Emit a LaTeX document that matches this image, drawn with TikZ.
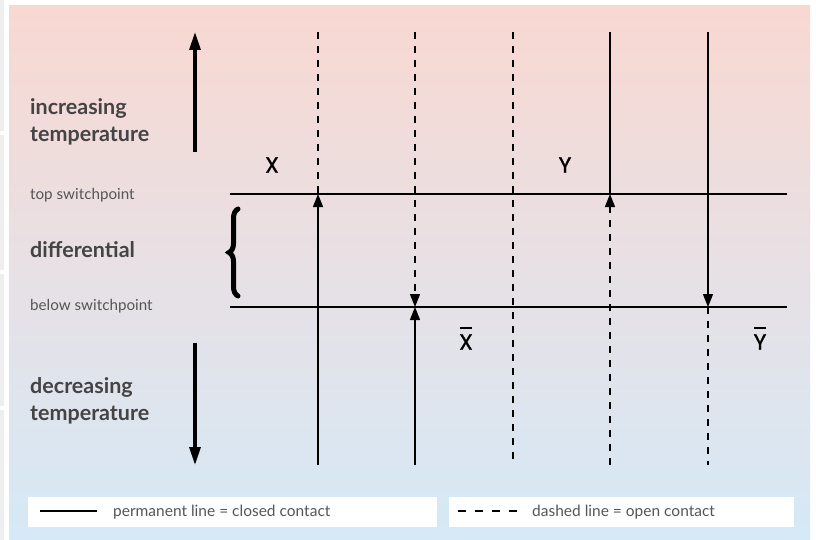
\documentclass[tikz,border=0pt]{standalone}
\usepackage{fontspec}
\setmainfont{Lato}
\newfontfamily\pop[FakeBold=1.2]{Poppins}
\usetikzlibrary{arrows.meta,decorations.pathreplacing}
\definecolor{bgtop}{HTML}{F9D8D2}
\definecolor{bgbot}{HTML}{D5E9F7}
\definecolor{labgray}{HTML}{444444}
\definecolor{leggray}{HTML}{555555}
\definecolor{stripgray}{HTML}{EEEEEE}
\tikzset{
  contact/.style={line width=1.3pt, draw=black},
  open/.style={contact, dash pattern=on 7pt off 7pt},
  tipup/.style={-{Triangle[length=13pt,width=10pt]}},
  bigarrow/.style={line width=3.2pt, -{Triangle[length=18pt,width=11pt]}},
  biglabel/.style={font=\fontsize{21.5}{27}\selectfont\bfseries, text=labgray, align=left, anchor=west, inner sep=0pt},
  smalllabel/.style={font=\fontsize{15.2}{17}\selectfont, text=leggray, anchor=west, inner sep=0pt},
  letter/.style={font=\pop\fontsize{22}{24}\selectfont, inner sep=0pt},
  legbox/.style={fill=white, draw=none},
  legtext/.style={font=\fontsize{15.5}{17}\selectfont, text=leggray, anchor=west, inner sep=0pt}
}
\begin{document}
\begin{tikzpicture}[x=1pt,y=-1pt]
\useasboundingbox (0,0) rectangle (816,540);
% background
\fill[white] (0,0) rectangle (816,540);
\foreach \a/\b in {0/131,135/270,274/406,410/540}{\fill[stripgray] (0,\a) rectangle (4,\b);}
\shade[top color=bgtop, bottom color=bgbot] (9,6) rectangle (810,540);

% coordinates
\foreach \i/\x in {1/318,2/415,3/513,4/610,5/708}{
  \coordinate (t\i) at (\x,32);
  \coordinate (s\i) at (\x,194);
  \coordinate (w\i) at (\x,307);
  \coordinate (b\i) at (\x,465);
}
\coordinate (hl1) at (230,194); \coordinate (hr1) at (787,194);
\coordinate (hl2) at (230,307); \coordinate (hr2) at (787,307);

% switchpoint lines
\draw[contact] (hl1) -- (hr1);
\draw[contact] (hl2) -- (hr2);

% contact lines
\draw[open] (t1) -- (s1);
\draw[contact, tipup] (b1) -- (s1);
\draw[open, tipup] (t2) -- (w2);
\draw[contact, tipup] (b2) -- (w2);
\draw[open] (t3) -- (b3);
\draw[contact] (t4) -- (s4);
\draw[open, tipup] (b4) -- (s4);
\draw[contact, tipup] (t5) -- (w5);
\draw[open] (w5) -- (b5);

% big arrows
\coordinate (ua0) at (195,152); \coordinate (ua1) at (195,32);
\coordinate (da0) at (195,343); \coordinate (da1) at (195,465);
\draw[bigarrow] (ua0) -- (ua1);
\draw[bigarrow] (da0) -- (da1);

% brace
\coordinate (br0) at (238,296); \coordinate (br1) at (238,209);
\draw[line width=5pt, line cap=round, decorate, decoration={brace, amplitude=9pt}] (br0) -- (br1);

% left labels
\node[biglabel] (inc) at (30,122) {increasing\\temperature};
\node[smalllabel] (top) at (30,195) {top switchpoint};
\node[biglabel] (dif) at (30,250) {differential};
\node[smalllabel] (bel) at (30,306) {below switchpoint};
\node[biglabel] (dec) at (30,401) {decreasing\\temperature};

% letters
\node[letter] (X) at (272,165) {X};
\node[letter] (Y) at (565,165) {Y};
\node[letter] (Xb) at (466,342) {X};
\node[letter] (Yb) at (760,342) {Y};
\draw[line width=1.4pt] ([yshift=6pt,xshift=1pt]Xb.north west) -- ([yshift=6pt,xshift=-1pt]Xb.north east);
\draw[line width=1.4pt] ([yshift=6pt,xshift=1pt]Yb.north west) -- ([yshift=6pt,xshift=-1pt]Yb.north east);

% legend
\fill[legbox] (28,497) rectangle (437,527);
\fill[legbox] (449,497) rectangle (794,527);
\coordinate (l1a) at (40,511); \coordinate (l1b) at (97,511);
\coordinate (l2a) at (458,511); \coordinate (l2b) at (517,511);
\draw[line width=1.3pt] (l1a) -- (l1b);
\draw[line width=1.3pt, dash pattern=on 8pt off 9pt] (l2a) -- (l2b);
\node[legtext] (lt1) at (113,512) {permanent line = closed contact};
\node[legtext] (lt2) at (532,512) {dashed line = open contact};
\end{tikzpicture}
\end{document}
